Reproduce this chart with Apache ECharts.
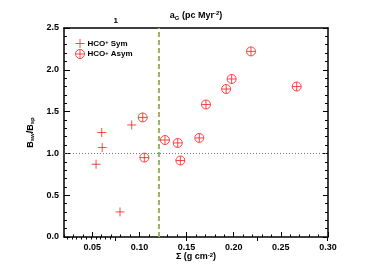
<!DOCTYPE html>
<html><head><meta charset="utf-8">
<script src="https://cdn.jsdelivr.net/npm/echarts@6/dist/echarts.min.js"></script>
<style>html,body{margin:0;padding:0;background:#fff}#c{width:382px;height:273px}</style>
</head><body><div id="c"></div>
<script>
// Data
const symSigma = [0.054, 0.0605, 0.060, 0.0918, 0.0794];
const symRatio = [0.87, 1.07, 1.25, 1.34, 0.30];
const asymSigma = [0.1035, 0.1052, 0.1271, 0.1406, 0.1434, 0.1635, 0.1706, 0.192, 0.1978, 0.2183, 0.2668];
const asymRatio = [1.43, 0.95, 1.16, 1.125, 0.915, 1.185, 1.585, 1.77, 1.89, 2.22, 1.80];
const sigmaLine = 0.12;
const refLine = 1.0;
const bottomTicks = [0.05, 0.10, 0.15, 0.20, 0.25, 0.30];
const topTickLabels = ['1'];

const FONT = 'Liberation Sans';
const FW = 'bold';
const plusPath = 'path://M5,0 L5,10 M0,5 L10,5';
const plusFilled = 'path://M4.45,0 L5.55,0 L5.55,4.45 L10,4.45 L10,5.55 L5.55,5.55 L5.55,10 L4.45,10 L4.45,5.55 L0,5.55 L0,4.45 L4.45,4.45 Z';
const oplusPath = 'path://M0,10 A10,10 0 1,1 20,10 A10,10 0 1,1 0,10 Z M10,0 L10,20 M0,10 L20,10';

const L = 64, R = 328, T = 28, B = 237;
const W = 382, H = 273;
const pxPer = (R - L) / (0.30 - 0.02);

const chart = echarts.init(document.getElementById('c'));
const red = '#ff1a1a';
const itemStyle = {color: 'rgba(0,0,0,0)', borderColor: red, borderWidth: 1};
const txt = (size, extra) => Object.assign({fontFamily: FONT, fontSize: size, color: '#000', fontWeight: FW}, extra || {});

chart.setOption({
  animation: false,
  grid: [
    {left: L, right: W - R, top: T, bottom: H - B},
    {left: L + (bottomTicks[0] - 0.02) * pxPer, width: (0.30 - bottomTicks[0]) * pxPer, top: T, bottom: H - B},
    {left: 115.7, width: 211.6, top: T, bottom: H - B},
    {left: 67, width: 48, top: T, bottom: H - B}
  ],
  xAxis: [
    {gridIndex: 0, type: 'value', min: 0.02, max: 0.30, interval: 0.01, position: 'bottom',
     axisLine: {show: true, onZero: false, lineStyle: {color: '#000', width: 1.5}},
     axisTick: {show: true, inside: true, length: 2.5, lineStyle: {color: '#000', width: 1}},
     axisLabel: {show: false}, splitLine: {show: false},
     name: 'Σ (g cm{sup|-2})', nameLocation: 'middle', nameGap: 15,
     nameTextStyle: txt(9, {rich: {sup: txt(6, {verticalAlign: 'top'})}})},
    {gridIndex: 0, type: 'value', min: 0.02, max: 0.30, position: 'top',
     axisLine: {show: true, onZero: false, lineStyle: {color: '#000', width: 1.5}},
     axisTick: {show: false}, axisLabel: {show: false}, splitLine: {show: false},
     name: 'a{sub|G} (pc Myr{sup|-2})', nameLocation: 'middle', nameGap: 7,
     nameTextStyle: txt(9, {lineHeight: 11, rich: {
       sub: txt(6, {verticalAlign: 'bottom', lineHeight: 11}),
       sup: txt(6, {verticalAlign: 'top', lineHeight: 11})}})},
    {gridIndex: 1, type: 'value', min: bottomTicks[0], max: bottomTicks[bottomTicks.length - 1], interval: 0.05, position: 'bottom',
     axisLine: {show: false},
     axisTick: {show: true, inside: true, length: 5, lineStyle: {color: '#000', width: 1}},
     axisLabel: txt(9, {show: true, margin: 6, formatter: v => v.toFixed(2)}),
     splitLine: {show: false}},
    {gridIndex: 2, type: 'value', min: 1, max: 4, interval: 1, position: 'top',
     axisLine: {show: false},
     axisTick: {show: true, inside: true, length: 4, lineStyle: {color: '#000', width: 1}},
     axisLabel: txt(8, {show: true, margin: 3, formatter: v => topTickLabels[v - 1] || ''}),
     splitLine: {show: false}},
    {gridIndex: 3, type: 'value', min: 0, max: 10, interval: 1, position: 'top',
     axisLine: {show: false},
     axisTick: {show: true, inside: true, length: 2.5, lineStyle: {color: '#000', width: 1}},
     axisLabel: {show: false}, splitLine: {show: false}}
  ],
  yAxis: [
    {gridIndex: 0, type: 'value', min: 0, max: 2.5, interval: 0.5, position: 'left',
     axisLine: {show: true, onZero: false, lineStyle: {color: '#000', width: 1.5}},
     axisTick: {show: true, inside: true, length: 6, lineStyle: {color: '#000', width: 1}},
     minorTick: {show: true, splitNumber: 5, length: 3, lineStyle: {color: '#000', width: 1}},
     axisLabel: txt(9, {show: true, margin: 5, formatter: v => v.toFixed(1)}),
     splitLine: {show: false},
     name: 'B{sub|sw}/B{sub|sp}', nameLocation: 'middle', nameGap: 21, nameRotate: 90,
     nameTextStyle: txt(9, {lineHeight: 11, rich: {sub: txt(6, {verticalAlign: 'bottom', lineHeight: 11})}})},
    {gridIndex: 0, type: 'value', min: 0, max: 2.5, interval: 0.5, position: 'right',
     axisLine: {show: true, onZero: false, lineStyle: {color: '#000', width: 1.5}},
     axisTick: {show: true, inside: true, length: 5, lineStyle: {color: '#000', width: 1}},
     minorTick: {show: true, splitNumber: 5, length: 3, lineStyle: {color: '#000', width: 1}},
     axisLabel: {show: false}, splitLine: {show: false}},
    {gridIndex: 1, type: 'value', min: 0, max: 1, show: false},
    {gridIndex: 2, type: 'value', min: 0, max: 1, show: false},
    {gridIndex: 3, type: 'value', min: 0, max: 1, show: false}
  ],
  legend: {
    orient: 'vertical', left: 70, top: 34, itemGap: 1, itemWidth: 9, itemHeight: 9,
    textStyle: txt(8, {padding: [0, 0, 0, -2], rich: {sup: txt(5.5, {verticalAlign: 'top'})}}),
    formatter: name => name.replace('HCO+', 'HCO{sup|+}'),
    data: [
      {name: 'HCO+ Sym', icon: plusFilled, itemStyle: {color: red, borderWidth: 0}},
      {name: 'HCO+ Asym', icon: oplusPath, itemStyle: itemStyle}
    ]
  },
  series: [
    {name: 'HCO+ Sym', type: 'scatter', xAxisIndex: 0, yAxisIndex: 0,
     symbol: plusPath, symbolSize: 9, itemStyle: {color: red, borderColor: red, borderWidth: 1},
     data: symSigma.map((s, i) => [s, symRatio[i]]),
     markLine: {silent: true, symbol: 'none', label: {show: false},
       data: [
         {xAxis: sigmaLine, lineStyle: {color: '#9db36a', type: [5, 3], width: 2}},
         {yAxis: refLine, lineStyle: {color: '#777', type: [1, 2], width: 1}}
       ]}},
    {name: 'HCO+ Asym', type: 'scatter', xAxisIndex: 0, yAxisIndex: 0,
     symbol: oplusPath, symbolSize: 9, itemStyle: itemStyle,
     data: asymSigma.map((s, i) => [s, asymRatio[i]])}
  ]
});
</script></body></html>
